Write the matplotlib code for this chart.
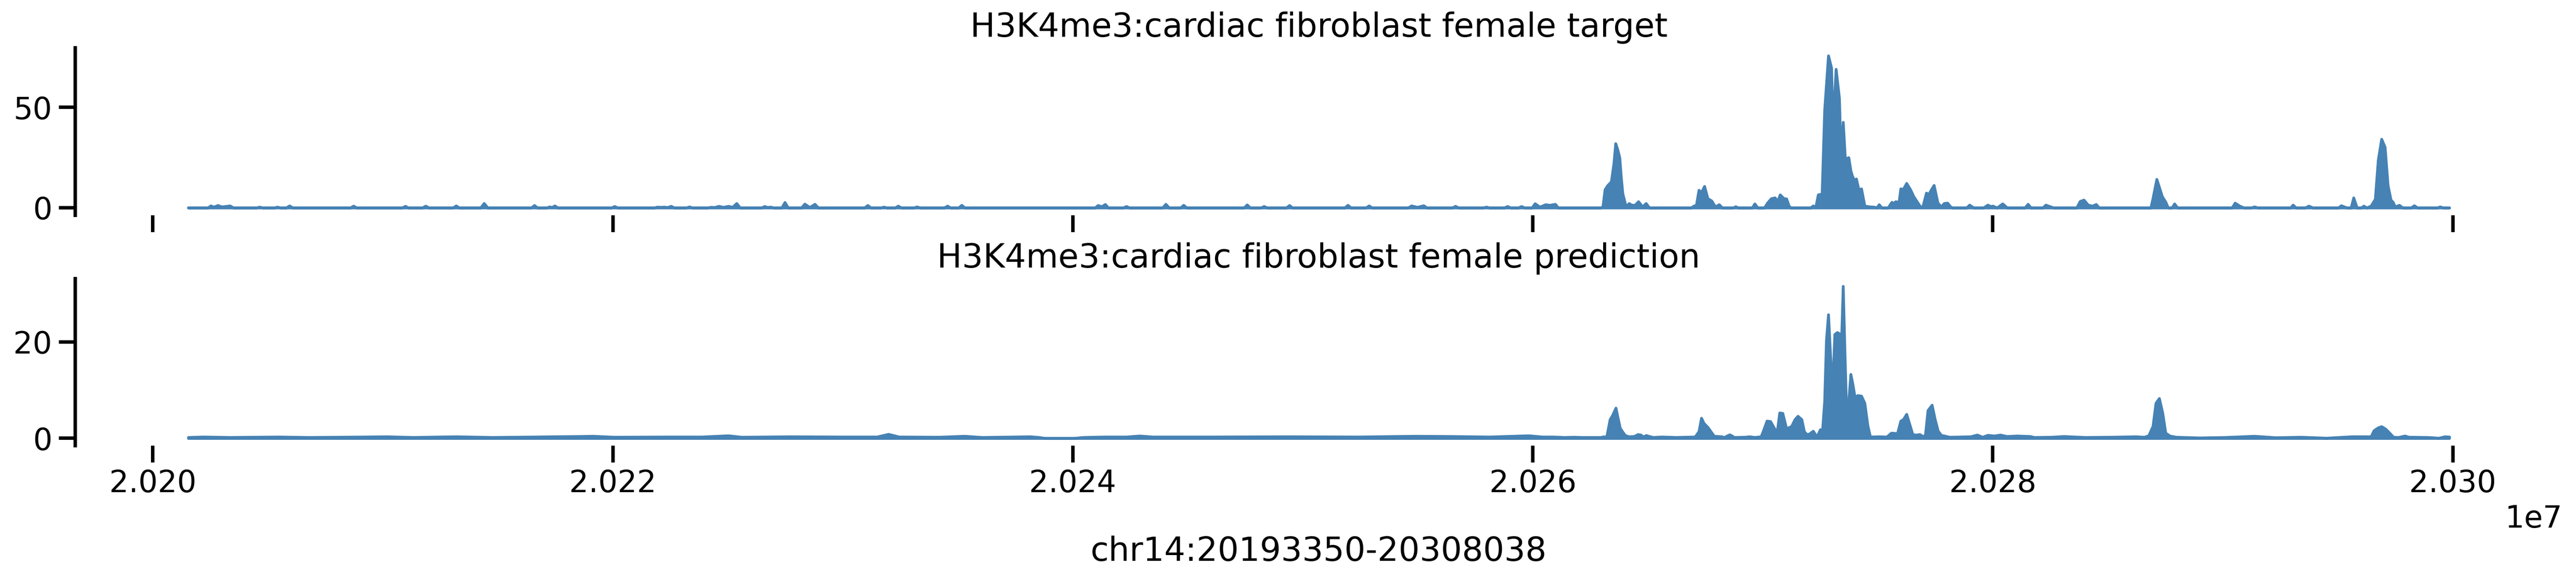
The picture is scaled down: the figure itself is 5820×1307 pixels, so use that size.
import numpy as np
import matplotlib
matplotlib.use('Agg')
import matplotlib.pyplot as plt

# region shown and track name
region = 'chr14:20193350-20308038'
track = 'H3K4me3:cardiac fibroblast female'
xticks = [20200000, 20220000, 20240000, 20260000, 20280000, 20300000]

# coverage: genomic position (bp) and value
target_pos = [
    20201542, 20202400, 20202516, 20202650, 20202825, 20203002, 20203355, 20203500,
    20204500, 20204637, 20204780, 20205280, 20205410, 20205550, 20205800, 20205940, 20206080,
    20208590, 20208723, 20208860, 20210840, 20210976, 20211110, 20211720, 20211860, 20212000,
    20213050, 20213185, 20213320, 20214250, 20214400, 20214560, 20216450, 20216587, 20216720,
    20217120, 20217250, 20217360, 20217470, 20217610, 20219940, 20220077, 20220210,
    20221800, 20221933, 20222080, 20222220, 20222380, 20222530, 20222670,
    20223190, 20223325, 20223460, 20224120, 20224252, 20224420, 20224606, 20224800, 20225026,
    20225200, 20225380, 20225530, 20226460, 20226595, 20226730, 20226860, 20227000,
    20227340, 20227478, 20227620, 20228200, 20228340, 20228560, 20228780, 20228930,
    20230940, 20231078, 20231220, 20231650, 20231785, 20231920, 20232270, 20232403, 20232540,
    20233090, 20233220, 20233360, 20234410, 20234546, 20234680, 20235030, 20235165, 20235300,
    20240960, 20241093, 20241250, 20241406, 20241540, 20242190, 20242327, 20242460,
    20243900, 20244039, 20244180, 20244680, 20244812, 20244950, 20247440, 20247574, 20247710,
    20248180, 20248310, 20248450, 20249280, 20249415, 20249550, 20251820, 20251955, 20252090,
    20252740, 20252876, 20253010, 20254580, 20254717, 20254980, 20255250, 20255390,
    20256500, 20256631, 20256770, 20257840, 20257975, 20258110, 20258760, 20258895, 20259040,
    20259370, 20259503, 20259640, 20259960, 20260092, 20260300, 20260552, 20260736, 20260975,
    20261100,
    20262950, 20263040, 20263131, 20263241, 20263407, 20263517, 20263595, 20263683, 20263771,
    20263837, 20263904, 20264014, 20264102, 20264180, 20264290, 20264434, 20264588, 20264765,
    20264919, 20265063,
    20266884, 20266995, 20267105, 20267216, 20267326, 20267458, 20267602, 20267768, 20267933,
    20268099, 20268231, 20268706, 20268816, 20268927, 20269534, 20269644, 20269777,
    20270064, 20270196, 20270362, 20270528, 20270638, 20270748, 20270914, 20271024, 20271135,
    20271212,
    20272073, 20272184, 20272294, 20272404, 20272570, 20272680, 20272846, 20272978, 20273044,
    20273177, 20273321, 20273398, 20273486, 20273575, 20273641, 20273729, 20273818, 20273895,
    20273983, 20274060, 20274171, 20274281, 20274425, 20274668, 20274834, 20274944,
    20275054, 20275164, 20275440, 20275606, 20275694, 20275771, 20275915, 20275992, 20276102,
    20276246, 20276425, 20276554, 20276738, 20276867, 20276959, 20277107, 20277199, 20277309,
    20277438, 20277604, 20277751, 20277880, 20278027, 20278156, 20278248,
    20278856, 20278984, 20279168, 20279592, 20279776, 20279905, 20279997, 20280181, 20280420,
    20280623, 20281396, 20281525, 20281654, 20282169, 20282298, 20282537, 20282648,
    20283642, 20283789, 20283955, 20284139, 20284323, 20284489, 20284618,
    20286864, 20286956, 20287122, 20287361, 20287508, 20287619, 20287784, 20287895, 20288024,
    20290399, 20290527, 20290730, 20290914, 20291227, 20291374, 20291521,
    20292939, 20293049, 20293178, 20293584, 20293731, 20293915,
    20295019, 20295148, 20295387, 20295572, 20295682, 20295829, 20296014, 20296124, 20296253,
    20296437, 20296621, 20296750, 20296897, 20297045, 20297174, 20297303, 20297395, 20297487,
    20297671, 20297818, 20298186, 20298317, 20298462, 20299327, 20299440, 20299585, 20299846,
]
target_val = [
    0, 0, 1.0, 0.4, 1.2, 0.5, 1.0, 0,
    0, 0.4, 0, 0, 0.4, 0, 0, 1.0, 0,
    0, 0.9, 0, 0, 0.8, 0, 0, 0.9, 0,
    0, 1.0, 0, 0, 2.2, 0, 0, 1.2, 0,
    0, 0.5, 0.2, 1.0, 0, 0, 0.7, 0,
    0, 0.4, 0.3, 0.4, 0.2, 0.8, 0,
    0, 0.5, 0, 0, 0.3, 0.2, 0.8, 0.3, 0.8,
    0.3, 2.2, 0, 0, 0.7, 0.2, 0.4, 0,
    0, 2.7, 0, 0, 1.9, 0.2, 1.8, 0,
    0, 1.2, 0, 0, 0.4, 0, 0, 0.9, 0,
    0, 0.5, 0, 0, 0.9, 0, 0, 1.3, 0,
    0, 1.2, 0.6, 1.7, 0, 0, 0.7, 0,
    0, 1.8, 0, 0, 1.3, 0, 0, 1.5, 0,
    0, 0.7, 0, 0, 1.2, 0, 0, 1.3, 0,
    0, 1.0, 0, 0, 1.0, 0.3, 1.1, 0,
    0, 0.8, 0, 0, 0.4, 0, 0, 0.7, 0,
    0, 0.7, 0, 0, 2.1, 0.4, 1.6, 1.3, 1.8,
    0,
    0, 0.5, 9.0, 11.0, 13.0, 22.0, 32.0, 29.0, 25.0,
    15.0, 7.0, 2.0, 0.9, 2.2, 1.4, 1.3, 3.1, 0.5,
    2.2, 0,
    0, 0.9, 1.3, 8.8, 7.6, 10.7, 4.6, 3.5, 0.5,
    1.6, 0, 0, 0.6, 0, 0, 2.0, 0,
    0, 2.4, 4.6, 5.0, 3.1, 6.5, 4.6, 4.5, 0.9,
    0,
    0, 1.0, 0.2, 6.5, 6.9, 48.6, 75.7, 69.7, 40.0,
    69.0, 54.6, 22.0, 42.6, 25.0, 24.6, 25.0, 18.5, 15.5,
    13.7, 14.4, 8.8, 9.5, 0.9, 0.5, 0.4, 0,
    1.6, 0, 0, 2.8, 2.2, 3.1, 2.8, 9.5, 9.2,
    12.2, 8.8, 5.6, 2.4, 0.2, 0.9, 7.4, 6.5, 8.8,
    11.2, 2.4, 0.5, 2.2, 2.4, 0.5, 0,
    0, 1.4, 0, 0, 1.4, 0.7, 0.9, 0, 2.0,
    0, 0, 1.8, 0, 0, 1.4, 0.4, 0,
    0, 3.2, 3.9, 1.4, 0.9, 1.7, 0,
    0, 4.7, 14.2, 5.6, 2.9, 0, 0, 2.0, 0,
    0, 2.4, 0.9, 0, 0, 0.5, 0,
    0, 1.4, 0, 0, 0.9, 0,
    0, 1.1, 0, 0, 5.0, 0, 0, 0.9, 0,
    0.9, 4.3, 23.8, 34.2, 30.2, 11.1, 3.9, 2.8, 0.5,
    1.3, 0, 0, 1.1, 0, 0, 0.5, 0, 0,
]

pred_pos = [
    20201542, 20202199, 20203340, 20205433, 20206764, 20208095, 20210188, 20211329, 20212470,
    20213231, 20214752, 20216654, 20217415, 20218556, 20219127, 20220078, 20222360, 20223882,
    20225023, 20225594, 20227686, 20229968, 20231490, 20231985, 20232441, 20234153, 20235294,
    20236055, 20238147, 20238528, 20238794, 20240049, 20240429, 20241380, 20242331, 20242902,
    20243473, 20245945, 20249369, 20252412, 20254884, 20256406, 20258118, 20259830, 20260400,
    20260868, 20261364, 20261806, 20262137, 20262689, 20262965, 20263076, 20263153, 20263219,
    20263352, 20263462, 20263606, 20263683, 20263793, 20263904, 20264014, 20264180, 20264401,
    20264566, 20264699, 20264787, 20264930, 20265063, 20265228, 20265615, 20266222, 20267050,
    20267216, 20267326, 20267436, 20267602, 20267878, 20268209, 20268320, 20268485, 20268563,
    20268761, 20269203, 20269424, 20269645, 20269920, 20270031, 20270174, 20270329, 20270506,
    20270616, 20270727, 20270859, 20271024, 20271245, 20271389, 20271521, 20271687, 20271797,
    20271908, 20272018, 20272184, 20272349, 20272493, 20272592, 20272680, 20272757, 20272846,
    20272934, 20273022, 20273122, 20273232, 20273309, 20273376, 20273486, 20273564, 20273641,
    20273729, 20273818, 20273895, 20274005, 20274116, 20274281, 20274425, 20274558, 20274668,
    20275054, 20275385, 20275584, 20275849, 20275992, 20276102, 20276246, 20276379, 20276512,
    20276655, 20276821, 20276987, 20277064, 20277174, 20277351, 20277484, 20277616, 20277760,
    20277843, 20278119, 20279040, 20279316, 20279555, 20279776, 20280052, 20280328, 20280604,
    20281065, 20281617, 20281801, 20282538, 20283090, 20284010, 20285115, 20286220, 20286588,
    20286772, 20286956, 20287085, 20287232, 20287379, 20287508, 20287692, 20287968, 20288981,
    20290086, 20291374, 20292295, 20293399, 20294504, 20295609, 20296437, 20296566, 20296750,
    20296897, 20297081, 20297266, 20297413, 20297634, 20297910, 20298094, 20298922, 20299383,
    20299659, 20299846,
]
pred_val = [
    0.2, 0.3, 0.2, 0.3, 0.2, 0.25, 0.35, 0.2, 0.3,
    0.35, 0.2, 0.3, 0.35, 0.4, 0.45, 0.25, 0.3, 0.3,
    0.55, 0.25, 0.35, 0.3, 0.3, 0.85, 0.3, 0.25, 0.45,
    0.2, 0.35, 0.2, 0.0, 0.0, 0.2, 0.3, 0.3, 0.5,
    0.3, 0.3, 0.35, 0.3, 0.45, 0.4, 0.3, 0.55, 0.3,
    0.3, 0.2, 0.25, 0.2, 0.2, 0.2, 0.35, 0.15, 0.6,
    3.9, 4.8, 6.3, 4.5, 2.1, 1.3, 0.6, 0.35, 0.4,
    0.8, 0.7, 0.3, 0.6, 0.4, 0.2, 0.3, 0.2, 0.3,
    1.4, 4.2, 3.1, 2.3, 0.45, 0.35, 0.2, 0.6, 0.75,
    0.2, 0.25, 0.35, 0.2, 0.35, 1.7, 3.6, 3.5, 2.0,
    1.2, 5.3, 5.2, 2.0, 2.5, 3.9, 4.6, 3.9, 1.4,
    0.8, 0.9, 1.5, 0.3, 1.8, 1.8, 7.7, 20.3, 25.7,
    17.2, 9.6, 21.6, 22.0, 21.8, 14.0, 31.6, 17.2, 4.3,
    7.7, 13.3, 11.5, 8.4, 8.9, 8.8, 7.3, 2.6, 0.3,
    0.35, 0.3, 1.1, 1.0, 3.6, 3.9, 5.0, 2.9, 0.8,
    0.7, 0.8, 0.3, 0.8, 5.8, 6.9, 3.9, 1.5, 0.6,
    0.55, 0.25, 0.35, 0.7, 0.25, 0.65, 0.5, 0.7, 0.4,
    0.5, 0.4, 0.2, 0.25, 0.4, 0.2, 0.25, 0.35, 0.25,
    0.55, 2.5, 7.3, 8.3, 5.2, 1.1, 0.5, 0.25, 0.1,
    0.2, 0.45, 0.15, 0.25, 0.05, 0.35, 0.35, 1.6, 2.2,
    2.45, 1.9, 1.0, 0.25, 0.2, 0.5, 0.25, 0.2, 0.05,
    0.35, 0.3,
]

plt.rcParams.update({
    'font.family': 'DejaVu Sans',
    'font.size': 16.5,
    'axes.titlesize': 18,
    'axes.labelsize': 18,
    'xtick.labelsize': 16.5,
    'ytick.labelsize': 16.5,
    'xtick.major.size': 9,
    'ytick.major.size': 9,
    'xtick.major.width': 1.875,
    'ytick.major.width': 1.875,
    'axes.linewidth': 1.875,
    'patch.linewidth': 1.5,
})

fig = plt.figure(figsize=(5820 / 300, 1307 / 300), dpi=300)
axes = fig.subplots(2, 1, sharex=True)
fig.subplots_adjust(left=0.0292, right=0.9947, top=0.917, bottom=0.230, hspace=0.378)

panels = [
    (axes[0], target_pos, target_val, 'target', [0, 50]),
    (axes[1], pred_pos, pred_val, 'prediction', [0, 20]),
]
for ax, pos, val, kind, yt in panels:
    ax.fill_between(pos, val, color='steelblue', linewidth=1.5)
    ax.set_title(f'{track} {kind}')
    ax.set_yticks(yt)
    for side in ['top', 'right', 'bottom']:
        ax.spines[side].set_visible(False)

axes[1].set_xticks(xticks)
axes[1].set_xlabel(region, labelpad=20)

fig.savefig('out.png', dpi=300, facecolor='white')
